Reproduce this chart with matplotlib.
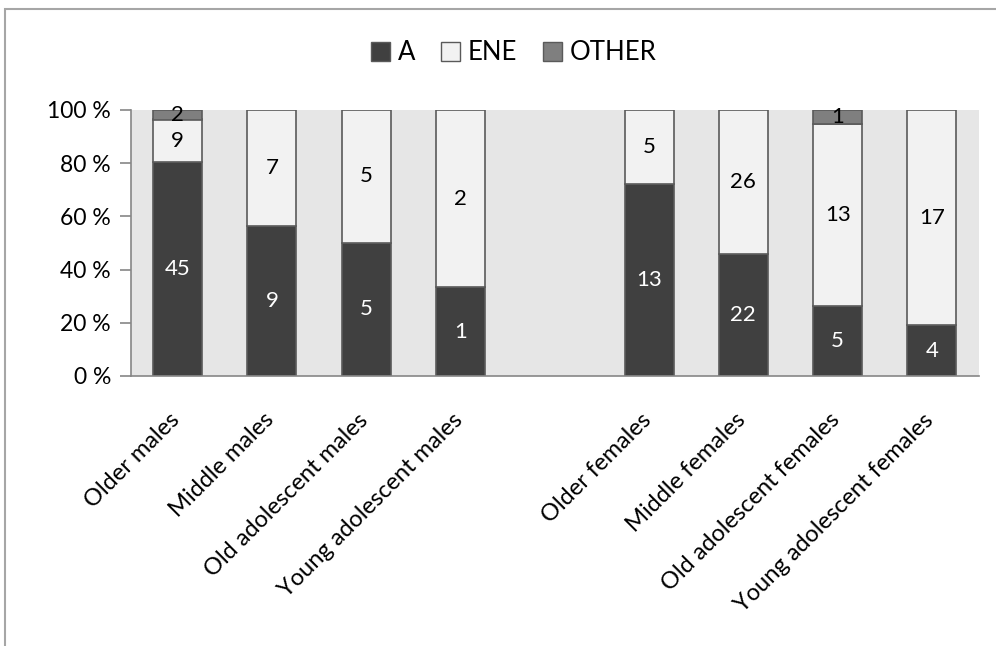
import matplotlib
matplotlib.use("Agg")
import matplotlib.pyplot as plt
from matplotlib.patches import Rectangle, Patch
from matplotlib.transforms import ScaledTranslation
import numpy as np

plt.rcParams['font.family'] = ['Lato', 'DejaVu Sans']

categories = ["Older males", "Middle males", "Old adolescent males", "Young adolescent males",
              "", "Older females", "Middle females", "Old adolescent females", "Young adolescent females"]
a_counts = [45, 9, 5, 1, 0, 13, 22, 5, 4]
ene_counts = [9, 7, 5, 2, 0, 5, 26, 13, 17]
other_counts = [2, 0, 0, 0, 0, 0, 0, 1, 0]
series_names = ["A", "ENE", "OTHER"]
y_ticks = [0, 20, 40, 60, 80, 100]

colors = ["#404040", "#f2f2f2", "#7f7f7f"]
text_colors = ["white", "black", "black"]
edge = "#5a5a5a"

fig = plt.figure(figsize=(9.96, 6.46), dpi=100)
fig.patch.set_facecolor("white")
fig.patches.append(Rectangle((5 / 996, -0.1), 1.2, 1 - 9 / 646 + 0.1, transform=fig.transFigure,
                             fill=False, edgecolor="#a6a6a6", linewidth=1.5, zorder=0))

ax = fig.add_axes([130.5 / 996, 1 - 376 / 646, (979 - 130.5) / 996, (376 - 110) / 646])
ax.set_facecolor("#e6e6e6")

x = np.arange(len(categories))
counts = np.array([a_counts, ene_counts, other_counts], dtype=float)
totals = counts.sum(axis=0)
safe = np.where(totals > 0, totals, 1)
shares = counts / safe * 100

bottom = np.zeros(len(categories))
width = 0.52
for i, name in enumerate(series_names):
    mask = counts[i] > 0
    ax.bar(x[mask], shares[i][mask], width, bottom=bottom[mask], color=colors[i],
           edgecolor=edge, linewidth=1.2, label=name, zorder=2)
    for xi, s, b, c in zip(x, shares[i], bottom, counts[i]):
        if c > 0:
            ax.text(xi, b + s / 2, f"{int(c)}", ha="center", va="center",
                    color=text_colors[i], fontsize=16, zorder=3)
    bottom += shares[i]

ax.set_xlim(-0.5, len(categories) - 0.5)
ax.set_ylim(0, 100)
ax.set_yticks(y_ticks)
ax.set_yticklabels([f"{t} %" for t in y_ticks], fontsize=16.5)
ax.set_xticks([xi for xi, c in zip(x, categories) if c])
ax.set_xticklabels([c for c in categories if c], rotation=45, ha="right",
                   rotation_mode="anchor", fontsize=17)
ax.tick_params(axis="x", length=0, pad=24)
ax.tick_params(axis="y", length=8, color="#868686", width=1.2, pad=6)
shift = ScaledTranslation(-9 / 100, 0, fig.dpi_scale_trans)
for lbl in ax.get_xticklabels():
    lbl.set_transform(lbl.get_transform() + shift)
for side in ["top", "right"]:
    ax.spines[side].set_visible(False)
for side in ["left", "bottom"]:
    ax.spines[side].set_color("#868686")
    ax.spines[side].set_linewidth(1.2)

handles = [Patch(facecolor=colors[i], edgecolor=edge, label=series_names[i]) for i in range(3)]
fig.legend(handles=handles, loc="center", bbox_to_anchor=(514 / 996, 1 - 53 / 646), ncol=3,
           frameon=False, fontsize=18.5, handlelength=0.75, handleheight=0.75,
           handletextpad=0.3, columnspacing=1.0)

fig.savefig("out.png", dpi=100)
